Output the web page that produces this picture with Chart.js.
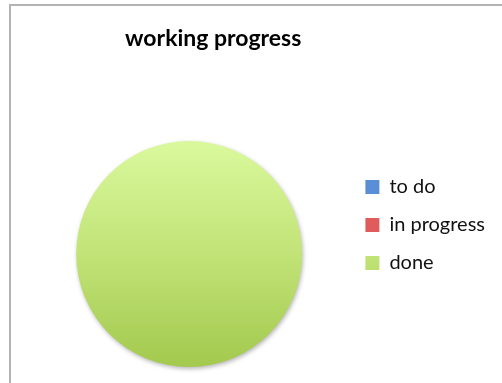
<!DOCTYPE html>
<html>
<head>
<meta charset="utf-8">
<script src="https://cdn.jsdelivr.net/npm/chart.js@4"></script>
<style>
  html, body { margin: 0; padding: 0; background: #fff; }
  #wrap { position: relative; width: 502px; height: 383px; overflow: hidden; }
  #frame { position: absolute; left: 9px; top: 4px; width: 600px; height: 500px;
           border-top: 2px solid #b3b3b3; border-left: 2px solid #b3b3b3; pointer-events: none; }
</style>
</head>
<body>
<div id="wrap">
  <canvas id="myChart" width="502" height="383"></canvas>
  <div id="frame"></div>
</div>
<script>
const chartTitle = 'working progress';
const labels = ['to do', 'in progress', 'done'];
const values = [0, 0, 1];
const colors = ['#5a8ed6', '#e05c5c', '#bcdf72'];

// soft drop shadow under the pie, like the spreadsheet version
const pieShadow = {
  id: 'pieShadow',
  beforeDatasetsDraw(chart) {
    const c = chart.ctx;
    c.save();
    c.shadowColor = 'rgba(0,0,0,0.28)';
    c.shadowBlur = 4;
    c.shadowOffsetX = 1;
    c.shadowOffsetY = 2;
  },
  afterDatasetsDraw(chart) {
    chart.ctx.restore();
  }
};

// the title sits a bit right of the pie centre in the original, which the
// built-in title box can't do next to a right legend
const offsetTitle = {
  id: 'offsetTitle',
  afterDraw(chart) {
    const c = chart.ctx;
    const area = chart.chartArea;
    c.save();
    c.font = 'bold 23px Lato';
    c.fillStyle = '#000';
    c.textAlign = 'center';
    c.textBaseline = 'alphabetic';
    c.fillText(chartTitle, (area.left + area.right) / 2 + 24, 46);
    c.restore();
  }
};

function sliceColor(context) {
  const i = context.dataIndex;
  const area = context.chart.chartArea;
  if (i !== 2 || !area) return colors[i];
  const g = context.chart.ctx.createLinearGradient(0, area.top, 0, area.bottom);
  g.addColorStop(0, '#daf99d');
  g.addColorStop(0.5, '#c1e377');
  g.addColorStop(1, '#a3c94e');
  return g;
}

const ctx = document.getElementById('myChart');

new Chart(ctx, {
  type: 'pie',
  data: {
    labels: labels,
    datasets: [{
      data: values,
      backgroundColor: sliceColor,
      borderWidth: 0
    }]
  },
  options: {
    responsive: false,
    animation: false,
    layout: { padding: { top: 141, left: 31, right: 7, bottom: 16 } },
    plugins: {
      tooltip: { enabled: false },
      title: { display: false },
      legend: {
        position: 'right',
        align: 'start',
        fullSize: false,
        title: { display: true, text: '', font: { size: 10 }, padding: { top: 6, bottom: 0 } },
        labels: {
          color: '#111',
          font: { family: 'Lato', size: 20 },
          boxWidth: 14,
          boxHeight: 14,
          padding: 18
        }
      }
    }
  },
  plugins: [pieShadow, offsetTitle]
});
</script>
</body>
</html>
